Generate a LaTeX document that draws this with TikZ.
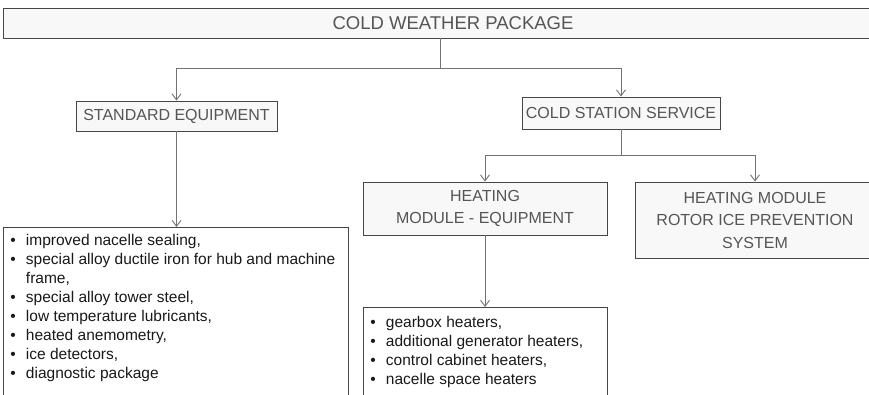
\documentclass[tikz,border=0pt]{standalone}
\usepackage{fontspec}
\setmainfont{Liberation Sans}
\usetikzlibrary{arrows.meta,positioning}
\definecolor{boxfill}{RGB}{248,248,248}
\definecolor{boxline}{RGB}{70,70,70}
\definecolor{linkgray}{RGB}{115,115,115}
\definecolor{headgray}{RGB}{85,85,85}
\definecolor{listblack}{RGB}{25,25,25}
\newcommand{\blt}{\makebox[1em][l]{\textbullet}}

\begin{document}
\begin{tikzpicture}[
    x=1pt,y=-1pt,
    box/.style={rectangle,draw=boxline,fill=boxfill,line width=0.95pt,inner sep=0pt,
      align=center,text=headgray},
    title/.style={box,minimum width=900pt,minimum height=30pt,font=\fontsize{18.5}{22}\selectfont},
    head/.style={box,font=\fontsize{16}{22.5}\selectfont},
    listbox/.style={rectangle,draw=boxline,fill=white,line width=0.95pt,inner ysep=0pt,
      inner xsep=7pt,anchor=north west,text=listblack,font=\fontsize{15.5}{19}\selectfont},
    link/.style={draw=linkgray,line width=0.9pt},
    arrow/.style={link,-{Straight Barb[length=6pt,width=9pt]}}
  ]
    \useasboundingbox (0,0) rectangle (869,394);
    \clip (0,0) rectangle (869,394);

    \node[title] (cwp) at (453,23) {COLD WEATHER PACKAGE};
    \node[head,minimum width=201pt,minimum height=30pt] (std) at (176.5,116) {STANDARD EQUIPMENT};
    \node[head,minimum width=198pt,minimum height=32pt] (css) at (621,113) {COLD STATION SERVICE};
    \node[head,minimum width=244pt,minimum height=53pt] (heq) at (485,208.5) {HEATING\\MODULE - EQUIPMENT};
    \node[head,minimum width=240pt,minimum height=76pt] (rotor) at (755,220) {HEATING MODULE\\ROTOR ICE PREVENTION\\SYSTEM};

    \node[listbox] (stdlist) at (3,227) {\parbox[t][185pt][t]{331pt}{\raggedright
      \rule{0pt}{18pt}\blt improved nacelle sealing,\\
      \blt special alloy ductile iron for hub and machine\\
      \hspace*{1em}frame,\\
      \blt special alloy tower steel,\\
      \blt low temperature lubricants,\\
      \blt heated anemometry,\\
      \blt ice detectors,\\
      \blt diagnostic package}};
    \node[listbox] (heqlist) at (363,307) {\parbox[t][100pt][t]{230pt}{\raggedright
      \rule{0pt}{20pt}\blt gearbox heaters,\\
      \blt additional generator heaters,\\
      \blt control cabinet heaters,\\
      \blt nacelle space heaters}};

    \coordinate (tsplit) at (440,68);
    \coordinate (csplit) at (621,155);

    \draw[link] (cwp.south -| tsplit) -- (tsplit);
    \draw[arrow] (tsplit) -| (std.north);
    \draw[arrow] (tsplit) -| (css.north);
    \draw[arrow] (std.south) -- (std.south |- stdlist.north);
    \draw[link] (css.south) -- (csplit);
    \draw[arrow] (csplit) -| (heq.north);
    \draw[arrow] (csplit) -| (rotor.north);
    \draw[arrow] (heq.south) -- (heq.south |- heqlist.north);
  \end{tikzpicture}
\end{document}
